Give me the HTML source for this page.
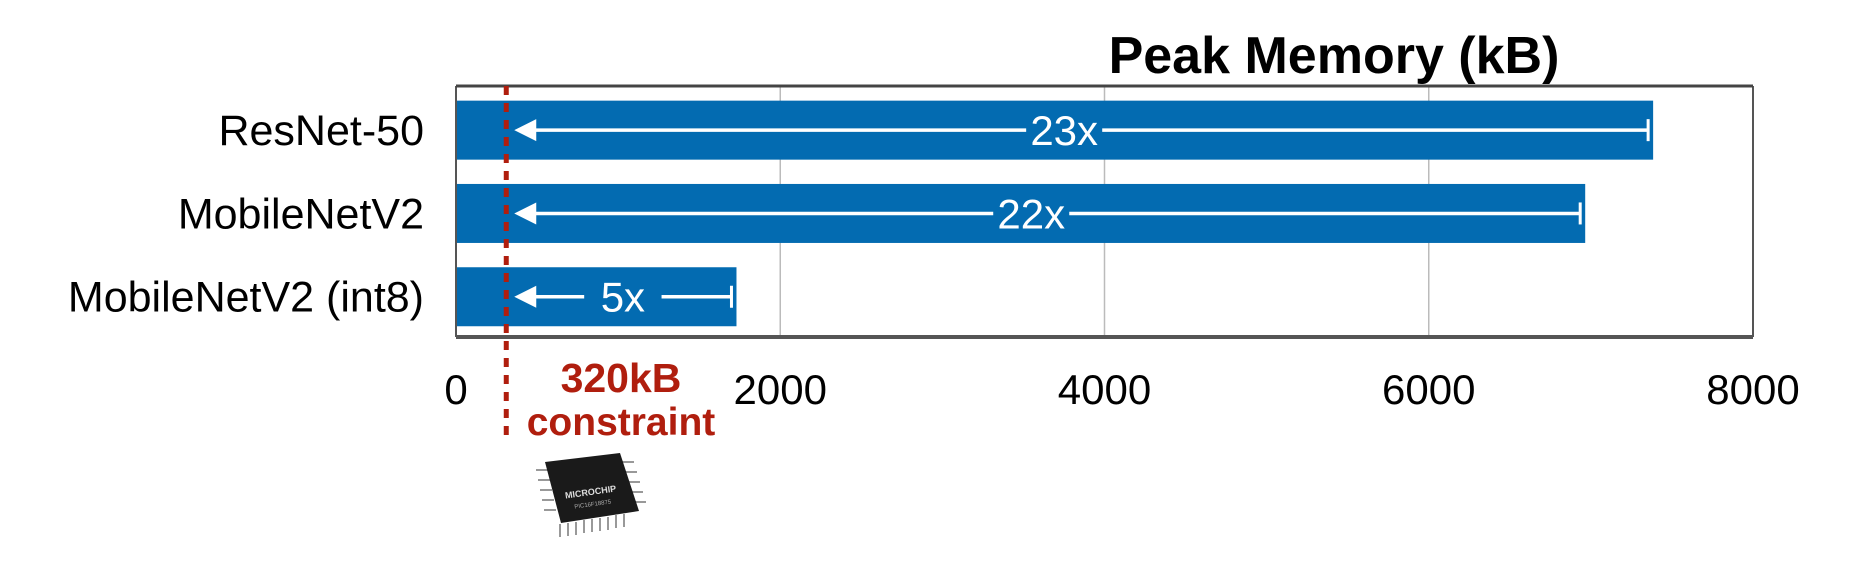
<!DOCTYPE html>
<html><head><meta charset="utf-8"><style>
html,body{margin:0;padding:0;background:#fff;}
svg{display:block;font-family:"Liberation Sans",Arial,sans-serif;}
</style></head><body>
<svg id="chart" width="1865" height="578" viewBox="0 0 1865 578">
  <text x="1334" y="73" text-anchor="middle" font-size="52" font-weight="bold" fill="#000">Peak Memory (kB)</text>
  <g id="grid"></g>
  <g id="bars"></g>
  <g id="frame">
    <line x1="456" y1="86" x2="456" y2="337" stroke="#555" stroke-width="2"/>
    <line x1="1753" y1="86" x2="1753" y2="337" stroke="#555" stroke-width="2"/>
    <line x1="456" y1="86" x2="1753" y2="86" stroke="#444" stroke-width="3"/>
    <line x1="456" y1="337" x2="1753" y2="337" stroke="#555" stroke-width="4"/>
  </g>
  <g id="xticks"></g>
  <g id="ylabels"></g>
  <line id="constraint" x1="0" y1="86" x2="0" y2="443" stroke="#b01e0e" stroke-width="5" stroke-dasharray="9,8"/>
  <text x="621" y="392" text-anchor="middle" font-size="41" font-weight="bold" fill="#b01e0e">320kB</text>
  <text x="621" y="435" text-anchor="middle" font-size="39" font-weight="bold" fill="#b01e0e">constraint</text>
  <g>
    <g stroke="#999" stroke-width="2">
      <line x1="560" y1="524" x2="560" y2="537"/><line x1="568" y1="523" x2="568" y2="536"/><line x1="576" y1="522" x2="576" y2="535"/><line x1="584" y1="520" x2="584" y2="533"/><line x1="592" y1="519" x2="592" y2="532"/><line x1="600" y1="518" x2="600" y2="531"/><line x1="608" y1="517" x2="608" y2="530"/><line x1="616" y1="515" x2="616" y2="528"/><line x1="624" y1="514" x2="624" y2="527"/>
      <line x1="536" y1="470" x2="548" y2="470"/><line x1="538" y1="480" x2="550" y2="480"/><line x1="540" y1="490" x2="552" y2="490"/><line x1="542" y1="500" x2="554" y2="500"/><line x1="544" y1="510" x2="556" y2="510"/>
      <line x1="622" y1="462" x2="634" y2="462"/><line x1="625" y1="472" x2="637" y2="472"/><line x1="628" y1="482" x2="640" y2="482"/><line x1="631" y1="492" x2="643" y2="492"/><line x1="634" y1="502" x2="646" y2="502"/>
    </g>
    <polygon points="545,462 620,453 639,511 561,523" fill="#1a1a1a"/>
    <text x="591" y="495" text-anchor="middle" font-size="9" font-weight="bold" fill="#ddd" transform="rotate(-8 591 495)">MICROCHIP</text>
    <text x="593" y="506" text-anchor="middle" font-size="6" fill="#aaa" transform="rotate(-8 593 506)">PIC16F18875</text>
  </g>
</svg>
<script>
const categories = ["ResNet-50", "MobileNetV2", "MobileNetV2 (int8)"];
const peakMemory = [7384, 6965, 1730];
const ratioLabels = ["23x", "22x", "5x"];
const xTicks = [0, 2000, 4000, 6000, 8000];
const constraintKB = [310];

const NS = "http://www.w3.org/2000/svg";
const X0 = 456, X1 = 1753, XMAX = 8000;
const xs = v => X0 + (X1 - X0) * v / XMAX;
const bandTop = 86, bandH = 83.3;
const yc = i => bandTop + bandH * (i + 0.53);
function mk(tag, attrs, parent) {
  const el = document.createElementNS(NS, tag);
  for (const k in attrs) el.setAttribute(k, attrs[k]);
  parent.appendChild(el);
  return el;
}
const grid = document.getElementById("grid");
xTicks.forEach(t => {
  if (t === 0 || t === XMAX) return;
  const l = mk("line", {x1: xs(t), x2: xs(t), y1: 86, y2: 337, stroke: "#bbb", "stroke-width": 1.5}, grid);
  
  
});
const xt = document.getElementById("xticks");
xTicks.forEach(t => {
  const tx = mk("text", {x: xs(t), y: 404, "text-anchor": "middle", "font-size": 42, fill: "#000"}, xt);
  tx.textContent = t;
  
  
});
const yl = document.getElementById("ylabels");
const bars = document.getElementById("bars");
const cx = xs(constraintKB[0]);
categories.forEach((c, i) => {
  const y = yc(i);
  const lab = mk("text", {x: 424, y: y + 15, "text-anchor": "end", "font-size": 43, fill: "#000"}, yl);
  lab.textContent = c;
  
  
  const end = xs(peakMemory[i]);
  const r = mk("rect", {x: X0, y: y - 29.5, width: end - X0, height: 59, fill: "#036bb1"}, bars);
  
  
  const g = mk("g", {}, bars);
  
  
  const tip = cx + 8, capX = end - 5;
  const long = ratioLabels[i].length > 2;
  const mid = long ? tip + (capX - tip) * 0.485 : (tip + capX) / 2;
  const fs = 42;
  const halfW = ratioLabels[i].length * fs * 0.27 + (long ? 4 : 16);
  mk("polygon", {points: `${tip},${y} ${tip + 22},${y - 11} ${tip + 22},${y + 11}`, fill: "#fff"}, g);
  mk("line", {x1: tip + 20, x2: mid - halfW, y1: y, y2: y, stroke: "#fff", "stroke-width": 3.5}, g);
  mk("line", {x1: mid + halfW, x2: capX, y1: y, y2: y, stroke: "#fff", "stroke-width": 3.5}, g);
  mk("line", {x1: capX, x2: capX, y1: y - 11, y2: y + 11, stroke: "#fff", "stroke-width": 3}, g);
  const t = mk("text", {x: mid, y: y + 15, "text-anchor": "middle", "font-size": fs, fill: "#fff"}, g);
  t.textContent = ratioLabels[i];
  
  
});
const cl = document.getElementById("constraint");
cl.setAttribute("x1", cx);
cl.setAttribute("x2", cx);
</script>
</body></html>
